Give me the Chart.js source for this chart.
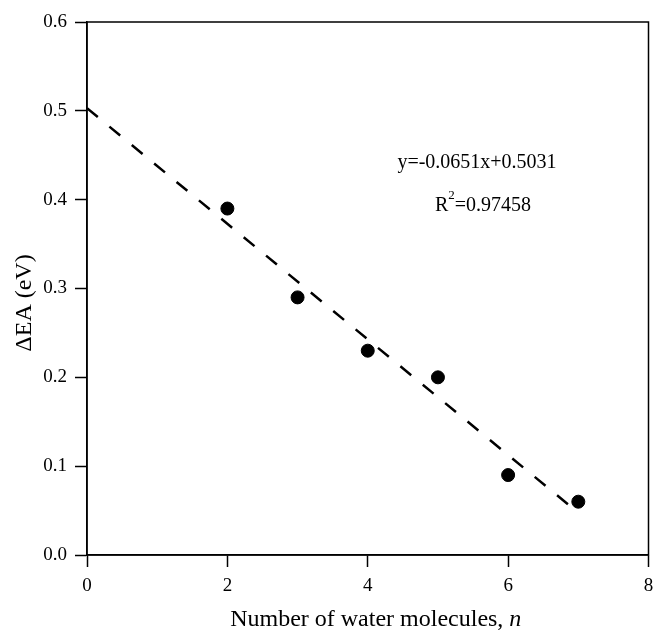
<!DOCTYPE html>
<html>
<head>
<meta charset="utf-8">
<script src="https://cdn.jsdelivr.net/npm/chart.js@4"></script>
<style>
  body { margin: 0; background: #fff; }
  canvas { display: block; }
</style>
</head>
<body>
<canvas id="grafico" width="656" height="636"></canvas>
<script>
const waterN = [2, 3, 4, 5, 6, 7];
const deltaEA = [0.39, 0.29, 0.23, 0.20, 0.09, 0.06];

// fitted line (start and end of the dashes)
const fitX = [0, 6.9];
const fitY = [0.503, 0.054];

const xTicks = [0, 2, 4, 6, 8];
const yTicks = [0.0, 0.1, 0.2, 0.3, 0.4, 0.5, 0.6];

const equationText = 'y=-0.0651x+0.5031';
const r2Value = '=0.97458';

const fonte = 'Liberation Serif, Times New Roman, serif';

const pontos = waterN.map((n, i) => ({ x: n, y: deltaEA[i] }));
const linhaFit = fitX.map((x, i) => ({ x: x, y: fitY[i] }));

const extras = {
  id: 'extras',
  afterDraw(chart) {
    const ctx = chart.ctx;
    const area = chart.chartArea;
    ctx.save();
    // box around the plot
    ctx.strokeStyle = '#000';
    ctx.lineWidth = 1.5;
    ctx.strokeRect(area.left, area.top, area.right - area.left, area.bottom - area.top);

    ctx.fillStyle = '#000';
    ctx.textBaseline = 'middle';

    // equation text
    ctx.font = '20px ' + fonte;
    ctx.textAlign = 'center';
    ctx.fillText(equationText, 477, 163);

    ctx.textAlign = 'left';
    let x0 = 435;
    ctx.fillText('R', x0, 206);
    let wR = ctx.measureText('R').width;
    ctx.font = '13px ' + fonte;
    ctx.fillText('2', x0 + wR, 196);
    let w2 = ctx.measureText('2').width;
    ctx.font = '20px ' + fonte;
    ctx.fillText(r2Value, x0 + wR + w2, 206);

    // x title with italic n
    ctx.font = '24px ' + fonte;
    let parte1 = 'Number of water molecules, ';
    let w1 = ctx.measureText(parte1).width;
    ctx.font = 'italic 24px ' + fonte;
    let wn = ctx.measureText('n').width;
    let inicio = (area.left + area.right) / 2 + 8 - (w1 + wn) / 2;
    ctx.font = '24px ' + fonte;
    ctx.fillText(parte1, inicio, 620);
    ctx.font = 'italic 24px ' + fonte;
    ctx.fillText('n', inicio + w1, 620);

    // y title
    ctx.font = '24px ' + fonte;
    ctx.translate(25, 303);
    ctx.rotate(-Math.PI / 2);
    ctx.textAlign = 'center';
    ctx.fillText('\u0394EA (eV)', 0, 0);
    ctx.restore();
  }
};

new Chart(document.getElementById('grafico'), {
  type: 'scatter',
  data: {
    datasets: [
      {
        data: pontos,
        pointRadius: 6.5,
        pointHoverRadius: 6.5,
        pointBackgroundColor: '#000',
        pointBorderColor: '#000',
        showLine: false
      },
      {
        data: linhaFit,
        showLine: true,
        borderColor: '#000',
        borderWidth: 2.5,
        borderDash: [14, 15],
        pointRadius: 0
      }
    ]
  },
  options: {
    responsive: false,
    animation: false,
    layout: { padding: { top: 22, right: 5, left: 0, bottom: 0 } },
    plugins: {
      legend: { display: false },
      tooltip: { enabled: false }
    },
    scales: {
      x: {
        type: 'linear',
        min: 0,
        max: 8,
        afterBuildTicks: (s) => { s.ticks = xTicks.map(v => ({ value: v })); },
        afterFit: (s) => {
          s.height = 81;
          s.paddingLeft = 0;
          s.paddingRight = 0;
        },
        grid: {
          display: true,
          drawOnChartArea: false,
          drawTicks: true,
          tickLength: 12,
          tickWidth: 1.5,
          tickColor: '#000'
        },
        border: { display: true, color: '#000', width: 1.5 },
        ticks: {
          color: '#000',
          font: { family: fonte, size: 19 },
          padding: 8,
          maxRotation: 0,
          callback: (v) => String(v)
        }
      },
      y: {
        type: 'linear',
        min: 0,
        max: 0.6,
        afterBuildTicks: (s) => { s.ticks = yTicks.map(v => ({ value: v })); },
        afterFit: (s) => {
          s.width = 87;
          s.paddingTop = 0;
          s.paddingBottom = 0;
        },
        grid: {
          display: true,
          drawOnChartArea: false,
          drawTicks: true,
          tickLength: 12,
          tickWidth: 1.5,
          tickColor: '#000'
        },
        border: { display: true, color: '#000', width: 1.5 },
        ticks: {
          color: '#000',
          font: { family: fonte, size: 19 },
          padding: 8,
          callback: (v) => Number(v).toFixed(1)
        }
      }
    }
  },
  plugins: [extras]
});
</script>
</body>
</html>
